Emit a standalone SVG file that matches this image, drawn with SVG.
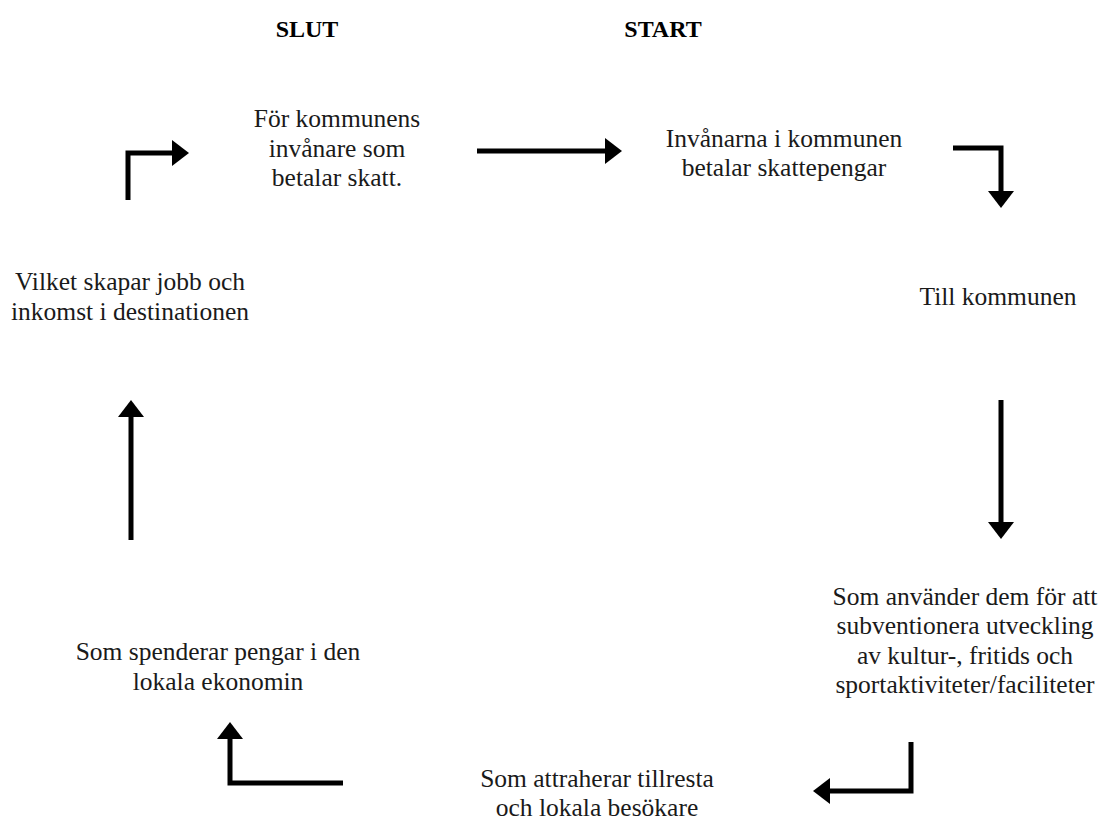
<svg xmlns="http://www.w3.org/2000/svg" width="1100" height="821" viewBox="0 0 1100 821">
  <style>
    .lbl { font-family: "Liberation Serif", "Times New Roman", serif; font-size: 25.5px; fill: #1a1a1a; text-anchor: middle; }
    .head { font-family: "Liberation Serif", "Times New Roman", serif; font-size: 24px; font-weight: bold; fill: #000; text-anchor: middle; }
    .flow { fill: none; stroke: #000; stroke-width: 5; stroke-linejoin: miter; stroke-linecap: butt; marker-end: url(#tip); }
  </style>
  <defs>
    <marker id="tip" markerUnits="userSpaceOnUse" viewBox="0 0 17 26" refX="1" refY="13" markerWidth="17" markerHeight="26" orient="auto">
      <path d="M0,0 L17,13 L0,26 Z" fill="#000"/>
    </marker>
  </defs>
  <rect width="1100" height="821" fill="#fff"/>

  <g id="heading-slut"><text class="head" x="307" y="37">SLUT</text></g>
  <g id="heading-start"><text class="head" x="663" y="37">START</text></g>

  <g id="node-skatt">
    <text class="lbl" x="337" y="127">För kommunens</text>
    <text class="lbl" x="337" y="157">invånare som</text>
    <text class="lbl" x="337" y="186">betalar skatt.</text>
  </g>
  <g id="node-invanare">
    <text class="lbl" x="784" y="147">Invånarna i kommunen</text>
    <text class="lbl" x="784" y="176">betalar skattepengar</text>
  </g>
  <g id="node-kommunen">
    <text class="lbl" x="998" y="305">Till kommunen</text>
  </g>
  <g id="node-subvention">
    <text class="lbl" x="965" y="605">Som använder dem för att</text>
    <text class="lbl" x="965" y="634">subventionera utveckling</text>
    <text class="lbl" x="965" y="664">av kultur-, fritids och</text>
    <text class="lbl" x="965" y="693">sportaktiviteter/faciliteter</text>
  </g>
  <g id="node-besokare">
    <text class="lbl" x="597" y="787">Som attraherar tillresta</text>
    <text class="lbl" x="597" y="816">och lokala besökare</text>
  </g>
  <g id="node-spendera">
    <text class="lbl" x="218" y="660">Som spenderar pengar i den</text>
    <text class="lbl" x="218" y="690">lokala ekonomin</text>
  </g>
  <g id="node-jobb">
    <text class="lbl" x="130" y="290">Vilket skapar jobb och</text>
    <text class="lbl" x="130" y="320">inkomst i destinationen</text>
  </g>

  <g id="connectors">
    <path class="flow" d="M477,151 H606"/>
    <path class="flow" d="M953,148 H1001 V192"/>
    <path class="flow" d="M1001,400 V523"/>
    <path class="flow" d="M911,742 V791 H829"/>
    <path class="flow" d="M343,783 H230 V738"/>
    <path class="flow" d="M131,540 V416"/>
    <path class="flow" d="M128,200 V153 H173"/>
  </g>
</svg>
